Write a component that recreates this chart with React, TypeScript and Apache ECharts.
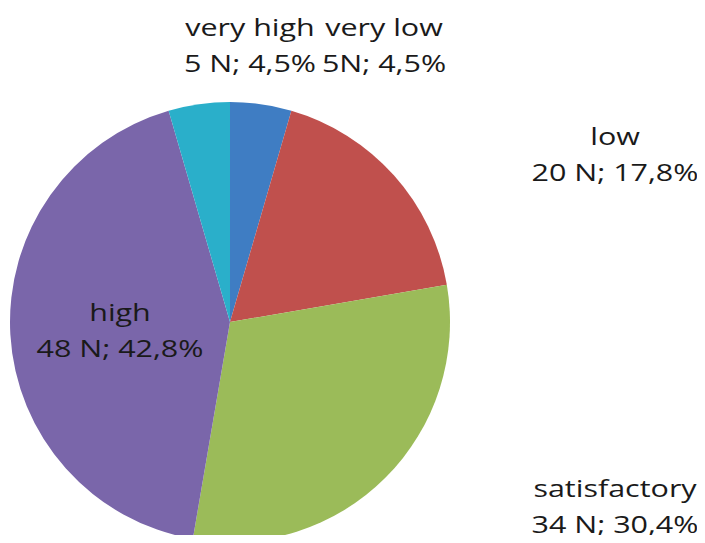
import React, { useEffect, useRef } from "react";
import * as echarts from "echarts";

const categories = ["very low", "low", "satisfactory", "high", "very high"];
const counts = [5, 20, 34, 48, 5];
const percents = [4.5, 17.8, 30.4, 42.8, 4.5];
const countLabels = ["5N", "20 N", "34 N", "48 N", "5 N"];
const colors = ["#3f7dc3", "#c0504d", "#9bbb59", "#7a66aa", "#2aafca"];
// label anchor positions (centre of text block)
const labelPos: [number, number][] = [
  [384, 45],
  [615, 154],
  [615, 506],
  [120, 330],
  [250, 45],
];

const fmt = (v: number) => v.toFixed(1).replace(".", ",");

export default function App() {
  const ref = useRef<HTMLDivElement>(null);
  useEffect(() => {
    if (!ref.current) return;
    const chart = echarts.init(ref.current, undefined, { renderer: "svg" });
    const graphics = categories.map((c, i) => ({
      type: "text",
      x: labelPos[i][0],
      y: labelPos[i][1],
      scaleX: 1.27,
      style: {
        text: `${c}\n${countLabels[i]}; ${fmt(percents[i])}%`,
        x: 0,
        y: 0,
        align: "center",
        verticalAlign: "middle",
        fontFamily: "Open Sans",
        fontSize: 24,
        lineHeight: 36,
        fill: "#1a1a1a",
      },
      z: 100,
    }));
    chart.setOption({
      animation: false,
      backgroundColor: "#ffffff",
      graphic: graphics,
      series: [
        {
          type: "pie",
          center: [230, 322],
          radius: 220,
          startAngle: 90,
          clockwise: true,
          label: { show: false },
          labelLine: { show: false },
          itemStyle: { borderWidth: 0 },
          data: categories.map((c, i) => ({
            name: c,
            value: percents[i],
            n: counts[i],
            itemStyle: { color: colors[i] },
          })),
        },
      ],
    });
    return () => chart.dispose();
  }, []);
  return <div ref={ref} style={{ width: 705, height: 543, margin: -8 }} />;
}
